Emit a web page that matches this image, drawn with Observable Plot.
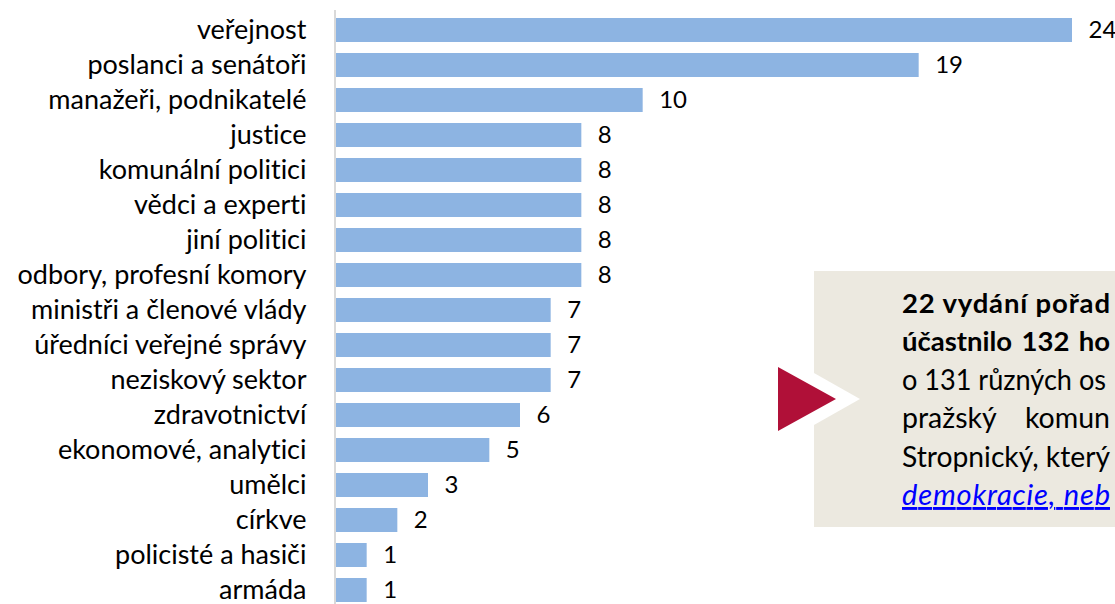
<!DOCTYPE html>
<html>
<head>
<meta charset="utf-8">
<script src="https://cdn.jsdelivr.net/npm/d3@7"></script>
<script src="https://cdn.jsdelivr.net/npm/@observablehq/plot@0.6"></script>
<style>
  html, body { margin: 0; padding: 0; background: #fff; overflow: hidden; width: 1115px; height: 604px; }
  #chart { position: relative; width: 1115px; height: 604px; overflow: hidden; }
  #chart svg { display: block; }
  #chart text { font-variant-ligatures: none; font-feature-settings: "liga" 0; }
</style>
</head>
<body>
<div id="chart"></div>
<script>
const categories = [
  "veřejnost", "poslanci a senátoři", "manažeři, podnikatelé", "justice",
  "komunální politici", "vědci a experti", "jiní politici", "odbory, profesní komory",
  "ministři a členové vlády", "úředníci veřejné správy", "neziskový sektor",
  "zdravotnictví", "ekonomové, analytici", "umělci", "církve",
  "policisté a hasiči", "armáda"
];
const values = [24, 19, 10, 8, 8, 8, 8, 8, 7, 7, 7, 6, 5, 3, 2, 1, 1];

// annotation text (only the part visible in the reference)
const noteBold = ["22 vydání pořad", "účastnilo 132 ho"];
const noteNormal = ["o 131 různých os", "pražský komun", "Stropnický, který"];
const noteLink = "demokracie, neb";

const data = categories.map((c, i) => ({category: c, value: values[i]}));

const font = "Lato, 'Open Sans', sans-serif";

const plot = Plot.plot({
  width: 1115,
  height: 604,
  marginLeft: 336,
  marginRight: 43,
  marginTop: 10,
  marginBottom: 0,
  style: {fontFamily: font, fontSize: "27px", color: "#000", background: "transparent", overflow: "hidden"},
  x: {domain: [0, 24], axis: null},
  y: {domain: categories, range: [4.2, 616.3], padding: 0.32, label: null},
  marks: [
    Plot.barX(data, {x: "value", y: "category", fill: "#8DB4E2"}),
    Plot.ruleX([0], {stroke: "#D9D9D9", strokeWidth: 2, dx: -1.5}),
    Plot.axisY({tickSize: 0, tickPadding: 30, fontSize: 27, label: null, fill: "#000"}),
    Plot.text(data, {x: "value", y: "category", text: d => String(d.value), dx: 16, textAnchor: "start", fontSize: 24, fill: "#000"})
  ]
});

document.getElementById("chart").appendChild(plot);

// annotation box
const svg = d3.select(plot);
const g = svg.append("g").attr("class", "note").attr("text-anchor", "start");
g.append("rect").attr("x", 814).attr("y", 271).attr("width", 301).attr("height", 256).attr("fill", "#ECE9E0");
g.append("polygon").attr("points", "814,373 860,399 814,425").attr("fill", "#fff");
g.append("polygon").attr("points", "778,367 836,399 778,431").attr("fill", "#B01038");

const baselines = [313, 351, 390, 428, 467, 505];
const tx = 902;

// justify: widen word gaps (lines the reference shows justified)
function justify(sel, end) {
  const natural = sel.node().getComputedTextLength();
  const spaces = (sel.text().match(/ /g) || []).length;
  if (spaces > 0 && natural < end - tx) sel.attr("word-spacing", ((end - tx) - natural) / spaces);
  else sel.attr("textLength", end - tx).attr("lengthAdjust", "spacingAndGlyphs");
}
// fit: adjust letter spacing so the line ends at the given x
function fit(sel, end) {
  const natural = sel.node().getComputedTextLength();
  sel.attr("textLength", end - tx).attr("lengthAdjust", natural < end - tx ? "spacing" : "spacingAndGlyphs");
}

const b0 = g.append("text").attr("x", tx).attr("y", baselines[0]).attr("font-family", font)
  .attr("font-size", 27.5).attr("font-weight", "bold").attr("fill", "#000").text(noteBold[0]);
fit(b0, 1110);
const b1 = g.append("text").attr("x", tx).attr("y", baselines[1]).attr("font-family", font)
  .attr("font-size", 27.5).attr("font-weight", "bold").attr("fill", "#000").text(noteBold[1]);
justify(b1, 1110);

const n0 = g.append("text").attr("x", tx).attr("y", baselines[2]).attr("font-family", font)
  .attr("font-size", 28).attr("fill", "#000").text(noteNormal[0]);
fit(n0, 1106);
const n1 = g.append("text").attr("x", tx).attr("y", baselines[3]).attr("font-family", font)
  .attr("font-size", 28.5).attr("fill", "#000").text(noteNormal[1]);
justify(n1, 1110);
const n2 = g.append("text").attr("x", tx).attr("y", baselines[4]).attr("font-family", font)
  .attr("font-size", 28.5).attr("fill", "#000").text(noteNormal[2]);
fit(n2, 1110);

const link = g.append("text").attr("x", tx).attr("y", baselines[5]).attr("font-family", font)
  .attr("font-size", 29).attr("font-style", "italic").attr("fill", "#0000FF")
  .attr("text-decoration", "underline").text(noteLink);
fit(link, 1110);
</script>
</body>
</html>
